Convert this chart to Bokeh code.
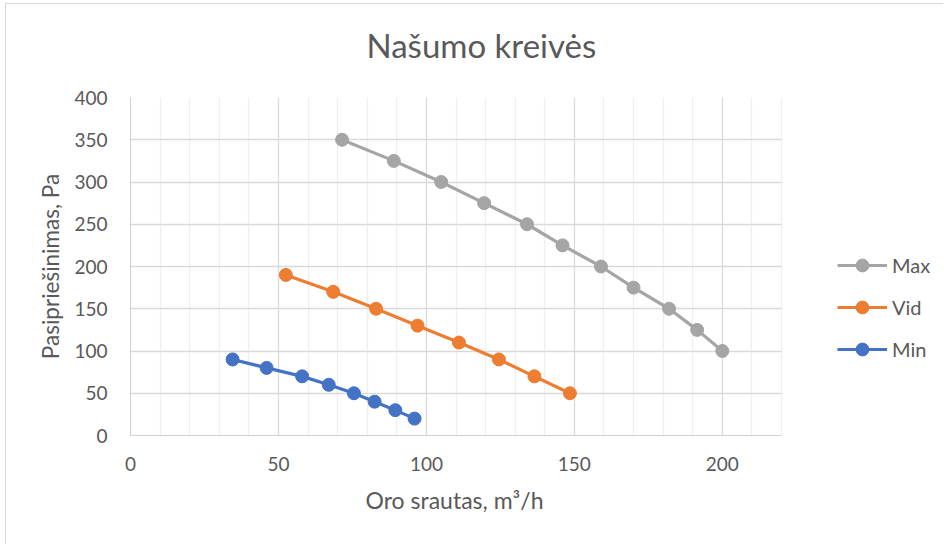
from bokeh.plotting import figure
from bokeh.models import (Range1d, FixedTicker, Legend, LegendItem, Title,
                          ColumnDataSource)
from bokeh.embed import file_html
from bokeh.resources import INLINE

# ---- data ----
title_text = "Našumo kreivės"
x_title = "Oro srautas, m³/h"
y_title = "Pasipriešinimas, Pa"

max_x = [71.5, 89, 105, 119.5, 134, 146, 159, 170, 182, 191.5, 200]
max_y = [350, 325, 300, 275, 250, 225, 200, 175, 150, 125, 100]
vid_x = [52.5, 68.5, 83, 97, 111, 124.5, 136.5, 148.5]
vid_y = [190, 170, 150, 130, 110, 90, 70, 50]
min_x = [34.5, 46, 58, 67, 75.5, 82.5, 89.5, 96]
min_y = [90, 80, 70, 60, 50, 40, 30, 20]

x_major = [0, 50, 100, 150, 200]
x_minor = [10, 20, 30, 40, 60, 70, 80, 90, 110, 120, 130, 140, 160, 170, 180, 190, 210, 220]
y_major = [0, 50, 100, 150, 200, 250, 300, 350, 400]
X_MAX, Y_MAX = 220, 400

series = [("Max", max_x, max_y, "#A5A5A5"),
          ("Vid", vid_x, vid_y, "#ED7D31"),
          ("Min", min_x, min_y, "#4472C4")]

FONT = "Lato"
TXT = "#595959"

# layout (pixels)
W, H = 938, 541
B_LEFT, B_RIGHT, B_TOP, B_BOTTOM = 124, 4, 93, 110
AXIS_PX = 651                      # pixel length of the 0..220 axis
frame_w = W - B_LEFT - B_RIGHT
x_end = X_MAX * frame_w / AXIS_PX  # frame extends right to hold the legend

p = figure(width=W, height=H, output_backend="svg", toolbar_location=None,
           x_range=Range1d(0, x_end), y_range=Range1d(0, Y_MAX),
           min_border_left=B_LEFT, min_border_right=B_RIGHT,
           min_border_top=B_TOP, min_border_bottom=B_BOTTOM)
p.outline_line_color = None
p.background_fill_color = "white"
p.border_fill_color = "white"
p.styles = {"margin-left": "5px", "margin-top": "3px",
            "border-left": "1px solid #d9d9d9", "border-top": "1px solid #d9d9d9"}

# titles above: spacer first (closest to frame), then main title
p.add_layout(Title(text=" ", text_font_size="1px", standoff=25), "above")
p.add_layout(Title(text=title_text, text_font=FONT, text_font_size="33px",
                   text_color=TXT, text_font_style="normal", align="left",
                   offset=236, standoff=10), "above")

p.xaxis.ticker = FixedTicker(ticks=x_major, minor_ticks=x_minor)
p.yaxis.ticker = FixedTicker(ticks=y_major)
p.xaxis.bounds = (0, X_MAX)

for ax in (p.xaxis, p.yaxis):
    ax.major_tick_line_color = None
    ax.minor_tick_line_color = None
    ax.major_label_text_font = FONT
    ax.major_label_text_font_size = "19px"
    ax.major_label_text_color = TXT
    ax.axis_label_text_font = FONT
    ax.axis_label_text_font_size = "22.5px"
    ax.axis_label_text_color = TXT
    ax.axis_label_text_font_style = "normal"
    ax.axis_line_color = "#d0d0d0"

p.yaxis.axis_label = y_title
p.yaxis.major_label_standoff = 17
p.xaxis.major_label_standoff = 15
p.yaxis.axis_label_standoff = 7

p.add_layout(Title(text=x_title, text_font=FONT, text_font_size="23px",
                   text_color=TXT, text_font_style="normal", align="left",
                   offset=235, standoff=24, vertical_align="top"), "below")

p.xgrid.grid_line_color = "#d9d9d9"
p.xgrid.minor_grid_line_color = "#efefef"
p.ygrid.grid_line_color = "#d9d9d9"
p.xgrid.grid_line_width = 1.3
p.ygrid.grid_line_width = 1.3
p.xgrid.minor_grid_line_width = 1.3
try:
    p.ygrid.cross_bounds = (0, X_MAX)
    p.xgrid.cross_bounds = (0, Y_MAX)
except Exception:
    p.ygrid.visible = False
    p.segment(x0=[0] * len(y_major), x1=[X_MAX] * len(y_major),
              y0=y_major, y1=y_major, line_color="#d9d9d9", line_width=1.3,
              level="underlay")

items = []
for name, xs, ys, col in series:
    src = ColumnDataSource(dict(x=xs, y=ys))
    ln = p.line("x", "y", source=src, line_color=col, line_width=3.2)
    sc = p.scatter("x", "y", source=src, size=13, fill_color=col, line_color=col)
    items.append(LegendItem(label=name, renderers=[ln, sc]))

legend = Legend(items=items, location=(707, 70), orientation="vertical",
                glyph_width=50, glyph_height=32, label_height=20, spacing=10,
                padding=0, margin=0, label_standoff=5,
                label_text_font=FONT, label_text_font_size="20px",
                label_text_color=TXT, border_line_color=None,
                background_fill_alpha=0)
p.add_layout(legend, "center")

open("out.html", "w").write(file_html(p, INLINE))
